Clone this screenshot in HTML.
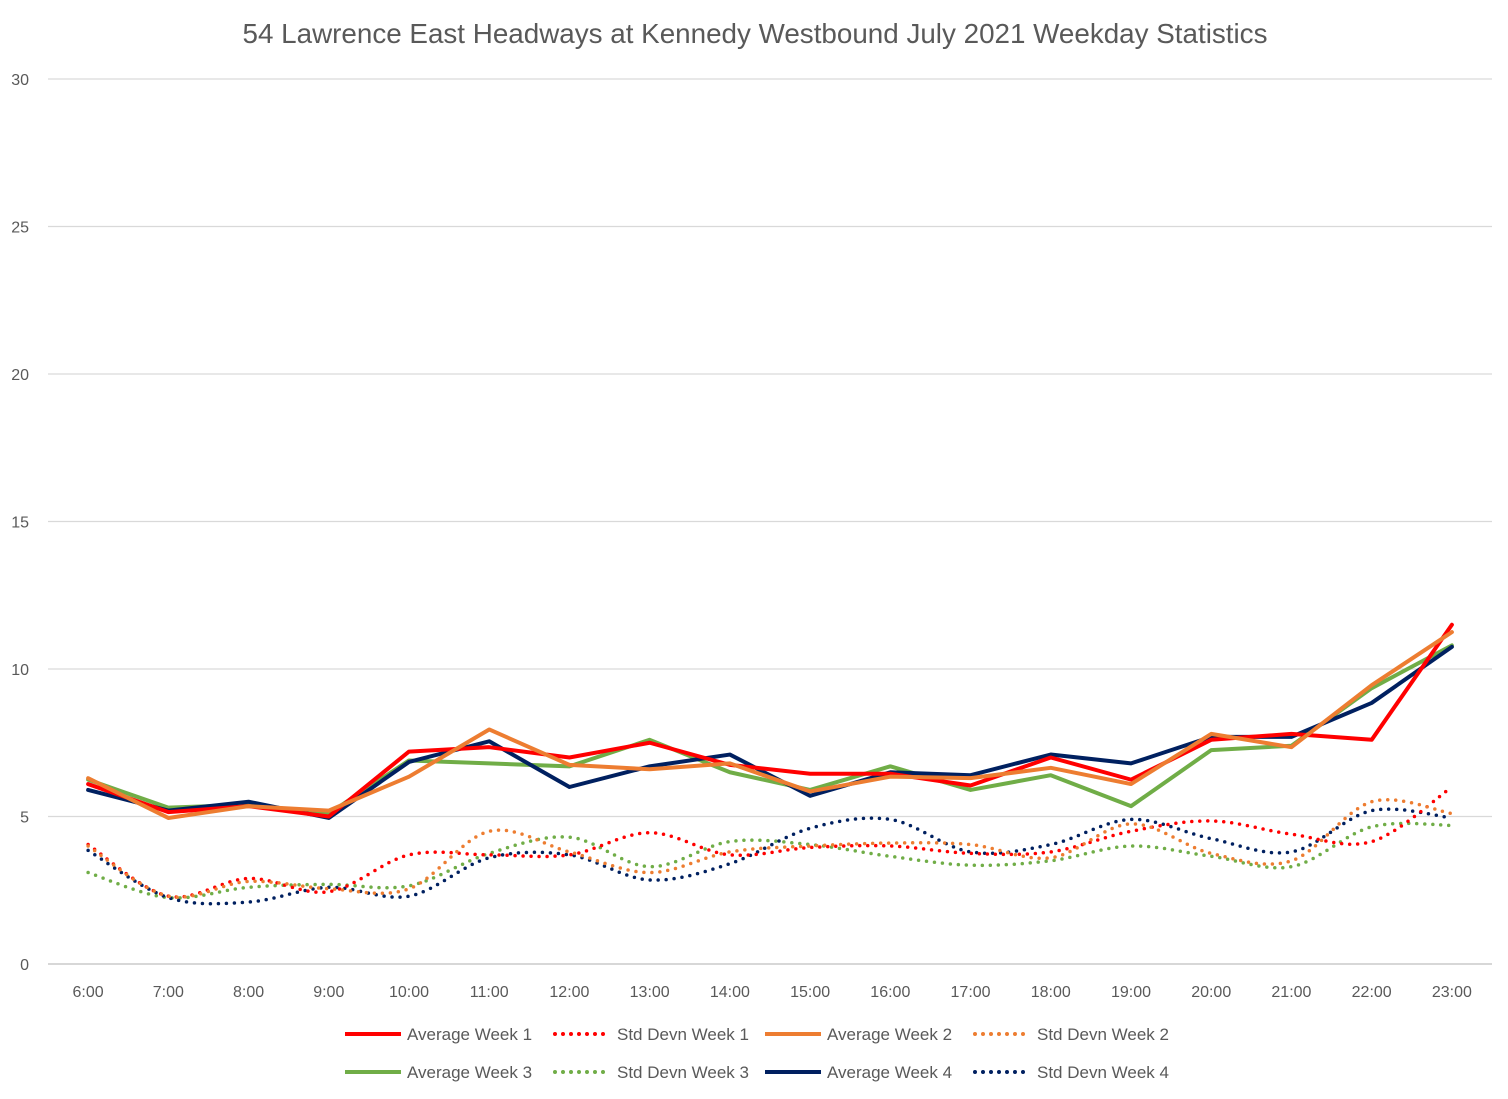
<!DOCTYPE html>
<html><head><meta charset="utf-8"><style>
body{margin:0;background:#fff;}
svg text{font-family:"Liberation Sans",sans-serif;fill:#595959;}
</style></head><body>
<svg id="chart" width="1508" height="1094" xmlns="http://www.w3.org/2000/svg">
<rect width="1508" height="1094" fill="#fff"/>
<text x="755" y="43" font-size="27.8" text-anchor="middle">54 Lawrence East Headways at Kennedy Westbound July 2021 Weekday Statistics</text>
<g id="grid"></g><g id="series"></g><g id="legend"></g>
</svg>
<script>
const categories=["6:00","7:00","8:00","9:00","10:00","11:00","12:00","13:00","14:00","15:00","16:00","17:00","18:00","19:00","20:00","21:00","22:00","23:00"];
const yTicks=[0,5,10,15,20,25,30];
const avgWeek1=[6.1,5.15,5.35,5.0,7.2,7.35,7.0,7.5,6.75,6.45,6.45,6.05,7.0,6.25,7.6,7.8,7.6,11.5];
const stdWeek1=[4.05,2.3,2.9,2.45,3.7,3.7,3.7,4.45,3.7,3.95,4.0,3.75,3.8,4.5,4.85,4.4,4.15,6.0];
const avgWeek2=[6.3,4.95,5.35,5.2,6.35,7.95,6.75,6.6,6.8,5.85,6.35,6.3,6.65,6.1,7.8,7.35,9.45,11.25];
const stdWeek2=[4.0,2.3,2.8,2.55,2.55,4.5,3.8,3.1,3.8,4.0,4.1,4.05,3.6,4.75,3.75,3.5,5.5,5.1];
const avgWeek3=[6.25,5.3,5.4,5.1,6.9,6.8,6.7,7.6,6.5,5.9,6.7,5.9,6.4,5.35,7.25,7.4,9.35,10.8];
const stdWeek3=[3.1,2.25,2.6,2.7,2.65,3.75,4.3,3.3,4.15,4.05,3.65,3.35,3.5,4.0,3.65,3.3,4.65,4.7];
const avgWeek4=[5.9,5.2,5.5,4.95,6.85,7.55,6.0,6.7,7.1,5.7,6.5,6.4,7.1,6.8,7.7,7.7,8.85,10.75];
const stdWeek4=[3.85,2.25,2.1,2.6,2.3,3.6,3.7,2.85,3.4,4.6,4.9,3.8,4.05,4.9,4.25,3.8,5.2,4.95];

const NS="http://www.w3.org/2000/svg";
const L=48,R=1492,T=79,B=964,ymax=30;
const band=(R-L)/categories.length;
const x=i=>L+band*(i+0.5);
const y=v=>B-(v/ymax)*(B-T);
function mk(tag,attrs,parent){const e=document.createElementNS(NS,tag);for(const k in attrs)e.setAttribute(k,attrs[k]);parent.appendChild(e);return e;}
const grid=document.getElementById('grid');
yTicks.forEach(t=>{
  const ln=mk('line',{x1:L,x2:R,y1:y(t),y2:y(t),stroke:t===0?'#bfbfbf':'#d9d9d9','stroke-width':1.3},grid);
  
  
  const tx=mk('text',{x:29,y:y(t)+6,'font-size':16,'text-anchor':'end'},grid);tx.textContent=t;
  
  
});
categories.forEach((c,i)=>{
  const tx=mk('text',{x:x(i),y:997,'font-size':16,'text-anchor':'middle'},grid);tx.textContent=c;
  
  
});
function straight(d){return d.map((v,i)=>(i?'L':'M')+x(i)+','+y(v)).join(' ');}
function smooth(d){
  const p=d.map((v,i)=>[x(i),y(v)]);let s='M'+p[0][0]+','+p[0][1];
  for(let i=0;i<p.length-1;i++){const p0=p[i-1]||p[i],p1=p[i],p2=p[i+1],p3=p[i+2]||p2;
    const c1=[p1[0]+(p2[0]-p0[0])/6,p1[1]+(p2[1]-p0[1])/6],c2=[p2[0]-(p3[0]-p1[0])/6,p2[1]-(p3[1]-p1[1])/6];
    s+=` C${c1[0]},${c1[1]} ${c2[0]},${c2[1]} ${p2[0]},${p2[1]}`;}
  return s;}
const defs=[
 {n:'Average Week 1',d:avgWeek1,c:'#ff0000',dot:false},
 {n:'Std Devn Week 1',d:stdWeek1,c:'#ff0000',dot:true},
 {n:'Average Week 2',d:avgWeek2,c:'#ed7d31',dot:false},
 {n:'Std Devn Week 2',d:stdWeek2,c:'#ed7d31',dot:true},
 {n:'Average Week 3',d:avgWeek3,c:'#70ad47',dot:false},
 {n:'Std Devn Week 3',d:stdWeek3,c:'#70ad47',dot:true},
 {n:'Average Week 4',d:avgWeek4,c:'#002060',dot:false},
 {n:'Std Devn Week 4',d:stdWeek4,c:'#002060',dot:true}];
const sg=document.getElementById('series'),lg=document.getElementById('legend');
const order=[5,7,1,3,4,6,0,2];
order.forEach(k=>{const s=defs[k];
  const p=mk('path',{d:s.dot?smooth(s.d):straight(s.d),fill:'none',stroke:s.c,'stroke-width':s.dot?3.5:4,'stroke-linejoin':'round','stroke-linecap':'round','stroke-dasharray':s.dot?'0 8':'none'},sg);
  
  
});
defs.forEach((s,i)=>{
  const lx=343+(i%4)*210, ly=i<4?1034:1072;
  const g=mk('g',{},lg);
  
  
  mk('line',{x1:lx+2,x2:lx+58,y1:ly,y2:ly,stroke:s.c,'stroke-width':4,'stroke-linecap':s.dot?'round':'butt','stroke-dasharray':s.dot?'0 8':'none'},g);
  const t=mk('text',{x:lx+64,y:ly+6,'font-size':17},g);t.textContent=s.n;
});
</script>
</body></html>
